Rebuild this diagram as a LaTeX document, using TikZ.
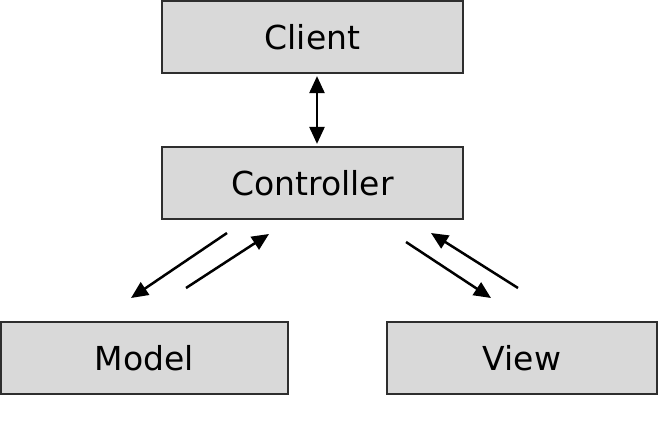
\documentclass[tikz,border=0pt]{standalone}
\usepackage{fontspec}
\setmainfont{DejaVu Sans}
\usetikzlibrary{arrows.meta}
\definecolor{boxgray}{HTML}{D9D9D9}
\definecolor{edgegray}{HTML}{2E2E2E}
\begin{document}
\begin{tikzpicture}[x=1pt, y=-1pt,
        box/.style = {draw=edgegray, fill=boxgray, line width=2.2pt, minimum height=72pt,
                      inner sep=0pt, font=\fontsize{33}{38}\selectfont},
        tip/.tip = {Triangle[length=17pt,width=15pt]},
        flow/.style = {line width=2.5pt, -tip}]
                            \useasboundingbox (0,0) rectangle (667,426);
                            \node[box, minimum width=301pt] (client) at (312.5,37) {Client};
                            \node[box, minimum width=301pt] (ctrl) at (312.5,183) {Controller};
                            \node[box, minimum width=287pt] (model) at (144.5,358) {Model};
                            \node[box, minimum width=270pt] (view) at (522,358) {View};
                            % ends of the slanted arrows
                            \coordinate (mdA) at (227,233);
                            \coordinate (mdB) at (131,298);
                            \coordinate (mdC) at (186,288);
                            \coordinate (mdD) at (269,234);
                            \coordinate (vwA) at (406,242);
                            \coordinate (vwB) at (491,298);
                            \coordinate (vwC) at (518,288);
                            \coordinate (vwD) at (431,233);
                            \draw[line width=2.5pt, tip-tip] ([xshift=4.5pt,yshift=-2pt]client.south) -- ([xshift=4.5pt,yshift=2pt]ctrl.north);
                            \draw[flow] (mdA) -- (mdB);
                            \draw[flow] (mdC) -- (mdD);
                            \draw[flow] (vwA) -- (vwB);
                            \draw[flow] (vwC) -- (vwD);
                        \end{tikzpicture}
\end{document}
